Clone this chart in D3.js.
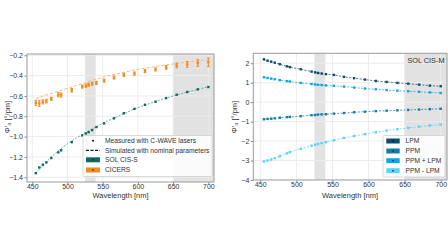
<!DOCTYPE html>
<html>
<head>
<meta charset="utf-8">
<script src="https://cdn.jsdelivr.net/npm/d3@7"></script>
<style>
  body { margin: 0; background: #fff; }
  svg { font-family: "Liberation Sans", Arial, sans-serif; }
</style>
</head>
<body>
<svg width="448" height="252"></svg>
<script>
// wavelengths of the C-WAVE measurements
var wl = [455, 460, 465, 470, 477, 487, 491, 506, 521, 526, 530, 535, 541, 552, 566, 580, 595, 610, 625, 640, 655, 670, 685, 700];

// left panel: SOL CIS-S and CICERS
var solS = [-1.36, -1.304, -1.277, -1.254, -1.211, -1.155, -1.135, -1.055, -0.989, -0.969, -0.956, -0.936, -0.906, -0.87, -0.82, -0.77, -0.727, -0.687, -0.657, -0.621, -0.588, -0.561, -0.535, -0.512];
var cicers = [-0.668, -0.674, -0.658, -0.651, -0.628, -0.588, -0.591, -0.544, -0.508, -0.499, -0.489, -0.479, -0.472, -0.449, -0.419, -0.392, -0.379, -0.355, -0.339, -0.319, -0.300, -0.290, -0.276, -0.268];
var cicersErr = [0.025, 0.028, 0.02, 0.018, 0.015, 0.02, 0.02, 0.018, 0.015, 0.015, 0.015, 0.015, 0.015, 0.015, 0.015, 0.015, 0.015, 0.015, 0.015, 0.018, 0.023, 0.028, 0.032, 0.043];
var simWl = [455, 475, 500, 525, 550, 575, 600, 625, 650, 675, 700];
var simS = [-1.36, -1.215, -1.07, -0.965, -0.87, -0.79, -0.715, -0.655, -0.6, -0.553, -0.51];
var simCicers = [-0.625, -0.58, -0.525, -0.47, -0.415, -0.375, -0.338, -0.31, -0.285, -0.263, -0.245];

// right panel: SOL CIS-M
var lpm = [2.20, 2.13, 2.08, 2.03, 1.95, 1.84, 1.80, 1.69, 1.57, 1.53, 1.50, 1.47, 1.44, 1.40, 1.30, 1.23, 1.16, 1.09, 1.04, 0.99, 0.95, 0.90, 0.85, 0.82];
var ppm = [-0.88, -0.86, -0.85, -0.83, -0.80, -0.77, -0.76, -0.72, -0.67, -0.66, -0.64, -0.63, -0.62, -0.59, -0.56, -0.52, -0.49, -0.46, -0.44, -0.42, -0.40, -0.38, -0.36, -0.34];
var ppmPlus = [1.28, 1.24, 1.21, 1.18, 1.13, 1.08, 1.06, 0.99, 0.93, 0.91, 0.89, 0.88, 0.86, 0.84, 0.80, 0.75, 0.70, 0.66, 0.62, 0.59, 0.56, 0.53, 0.50, 0.47];
var ppmMinus = [-3.05, -3.00, -2.95, -2.88, -2.78, -2.63, -2.57, -2.40, -2.24, -2.19, -2.15, -2.10, -2.05, -1.96, -1.84, -1.74, -1.65, -1.55, -1.46, -1.39, -1.32, -1.26, -1.20, -1.15];

var bands = [[525, 540], [650, 720]];
var xTicks = [450, 500, 550, 600, 650, 700];
var leftYTicks = [-1.4, -1.2, -1.0, -0.8, -0.6, -0.4, -0.2];
var rightYTicks = [-4, -3, -2, -1, 0, 1, 2];

var svg = d3.select("svg");

function panel(box, xdom, ydom, yticks, yfmt) {
  var x = d3.scaleLinear().domain(xdom).range([box.l, box.r]);
  var y = d3.scaleLinear().domain(ydom).range([box.b, box.t]);
  var g = svg.append("g");
  var clipId = "c" + Math.round(box.l);
  g.append("clipPath").attr("id", clipId).append("rect")
    .attr("x", box.l).attr("y", box.t).attr("width", box.r - box.l).attr("height", box.b - box.t);
  var inner = g.append("g").attr("clip-path", "url(#" + clipId + ")");
  // grey bands
  bands.forEach(function(b) {
    inner.append("rect").attr("x", x(b[0])).attr("y", box.t)
      .attr("width", x(b[1]) - x(b[0])).attr("height", box.b - box.t)
      .attr("fill", "#e2e2e2");
  });
  // grid
  xTicks.forEach(function(t) {
    inner.append("line").attr("x1", x(t)).attr("x2", x(t)).attr("y1", box.t).attr("y2", box.b)
      .attr("stroke", "#ececec").attr("stroke-width", 1);
  });
  yticks.forEach(function(t) {
    inner.append("line").attr("x1", box.l).attr("x2", box.r).attr("y1", y(t)).attr("y2", y(t))
      .attr("stroke", "#ececec").attr("stroke-width", 1);
  });
  // axes
  var xa = g.append("g").attr("transform", "translate(0," + box.b + ")")
    .call(d3.axisBottom(x).tickValues(xTicks).tickSize(2));
  xa.selectAll("text").attr("y", 2.5);
  var ya = g.append("g").attr("transform", "translate(" + box.l + ",0)")
    .call(d3.axisLeft(y).tickValues(yticks).tickSize(2.5).tickPadding(1.5).tickFormat(yfmt));
  [xa, ya].forEach(function(a) {
    a.select(".domain").remove();
    a.selectAll("line").attr("stroke", "#888");
    a.selectAll("text").attr("fill", "#333").style("font-size", "7px");
  });
  g.append("rect").attr("x", box.l).attr("y", box.t)
    .attr("width", box.r - box.l).attr("height", box.b - box.t)
    .attr("fill", "none").attr("stroke", "#9a9a9a").attr("stroke-width", 1);
  return {x: x, y: y, g: inner, outer: g};
}

function squares(p, vals, color, size) {
  p.g.selectAll(null).data(vals).enter().append("rect")
    .attr("x", function(d, i) { return p.x(wl[i]) - size / 2; })
    .attr("y", function(d) { return p.y(d) - size / 2; })
    .attr("width", size).attr("height", size)
    .attr("fill", color);
}

function dashed(p, xs, vals, color, dash, op) {
  var line = d3.line()
    .x(function(d, i) { return p.x(xs[i]); })
    .y(function(d) { return p.y(d); })
    .curve(d3.curveMonotoneX);
  p.g.append("path").datum(vals).attr("d", line)
    .attr("fill", "none").attr("stroke", color).attr("stroke-width", 1)
    .attr("stroke-dasharray", dash).attr("opacity", op);
}

// ---------------- left panel ----------------
var L = panel({l: 27, r: 214, t: 54, b: 182}, [442.5, 708], [-1.447, -0.187], leftYTicks, d3.format(".1f"));
var teal = "#0e6b5e", orange = "#f28a1e";
dashed(L, simWl, simS, "#5aa89c", "2,1.5", 0.9);
dashed(L, simWl, simCicers, "#f6b26b", "3,2", 0.9);
squares(L, solS, teal, 2.4);
// CICERS error bars
var eb = L.g.selectAll(null).data(cicers).enter().append("g").attr("stroke", orange).attr("stroke-width", 1);
eb.append("line")
  .attr("x1", function(d, i) { return L.x(wl[i]); }).attr("x2", function(d, i) { return L.x(wl[i]); })
  .attr("y1", function(d, i) { return L.y(d - cicersErr[i]); }).attr("y2", function(d, i) { return L.y(d + cicersErr[i]); });
[-1, 1].forEach(function(s) {
  eb.append("line")
    .attr("x1", function(d, i) { return L.x(wl[i]) - 1.3; }).attr("x2", function(d, i) { return L.x(wl[i]) + 1.3; })
    .attr("y1", function(d, i) { return L.y(d + s * cicersErr[i]); }).attr("y2", function(d, i) { return L.y(d + s * cicersErr[i]); });
});
squares(L, cicers, orange, 2.4);

svg.append("text").attr("x", 120.5).attr("y", 197.5).attr("text-anchor", "middle")
  .attr("fill", "#333").style("font-size", "7.5px").text("Wavelength [nm]");
svg.append("text").attr("transform", "translate(10,117) rotate(-90)").attr("text-anchor", "middle")
  .attr("fill", "#333").style("font-size", "7.5px").text("Φ'₀ [°/pm]");

// left legend
var lg = svg.append("g");
lg.append("rect").attr("x", 83).attr("y", 135.5).attr("width", 129).attr("height", 41)
  .attr("fill", "#fff").attr("fill-opacity", 0.85).attr("stroke", "#d0d0d0").attr("stroke-width", 0.8).attr("rx", 1);
var leftLeg = ["Measured with C-WAVE lasers", "Simulated with nominal parameters", "SOL CIS-S", "CICERS"];
var legRows = [140.7, 150.3, 159.8, 170];
leftLeg.forEach(function(t, i) {
  var yy = legRows[i];
  if (i === 0) {
    lg.append("circle").attr("cx", 93).attr("cy", yy).attr("r", 1).attr("fill", "#111");
  } else if (i === 1) {
    lg.append("line").attr("x1", 86).attr("x2", 100).attr("y1", yy).attr("y2", yy)
      .attr("stroke", "#222").attr("stroke-width", 1.2).attr("stroke-dasharray", "3,1.5");
  } else {
    lg.append("rect").attr("x", 86).attr("y", yy - 2.5).attr("width", 14).attr("height", 5)
      .attr("fill", i === 2 ? teal : orange);
    lg.append("circle").attr("cx", 93).attr("cy", yy).attr("r", 0.8).attr("fill", "#111");
  }
  lg.append("text").attr("x", 105).attr("y", yy + 2.4).attr("fill", "#333")
    .style("font-size", "6.7px").text(t);
});

// ---------------- right panel ----------------
var R = panel({l: 253.3, r: 447, t: 53.3, b: 180}, [440.3, 708.7], [-4, 2.51], rightYTicks, d3.format("d"));
var series = [
  {name: "LPM", vals: lpm, color: "#0c4f6c"},
  {name: "PPM", vals: ppm, color: "#137fa8"},
  {name: "PPM + LPM", vals: ppmPlus, color: "#0fa8e2"},
  {name: "PPM - LPM", vals: ppmMinus, color: "#5cd3f7"}
];
series.forEach(function(s) {
  dashed(R, wl, s.vals, s.color, "2,1.5", 0.75);
  squares(R, s.vals, s.color, 2.4);
});

svg.append("text").attr("x", 444.5).attr("y", 62.5).attr("text-anchor", "end")
  .attr("fill", "#333").style("font-size", "7.3px").text("SOL CIS-M");
svg.append("text").attr("x", 350).attr("y", 198).attr("text-anchor", "middle")
  .attr("fill", "#333").style("font-size", "7.5px").text("Wavelength [nm]");
svg.append("text").attr("transform", "translate(237,117) rotate(-90)").attr("text-anchor", "middle")
  .attr("fill", "#333").style("font-size", "7.5px").text("Φ'₀ [°/pm]");

var rg = svg.append("g");
rg.append("rect").attr("x", 383).attr("y", 135.5).attr("width", 62).attr("height", 41.5)
  .attr("fill", "#fff").attr("fill-opacity", 0.85).attr("stroke", "#d0d0d0").attr("stroke-width", 0.8).attr("rx", 1);
var rRows = [141, 151, 160.7, 170.7];
series.forEach(function(s, i) {
  var yy = rRows[i];
  rg.append("rect").attr("x", 386.3).attr("y", yy - 2.5).attr("width", 13.4).attr("height", 5).attr("fill", s.color);
  rg.append("circle").attr("cx", 393).attr("cy", yy).attr("r", 0.8).attr("fill", "#111");
  rg.append("text").attr("x", 405.5).attr("y", yy + 2.4).attr("fill", "#333")
    .style("font-size", "6.7px").text(s.name);
});
</script>
</body>
</html>
